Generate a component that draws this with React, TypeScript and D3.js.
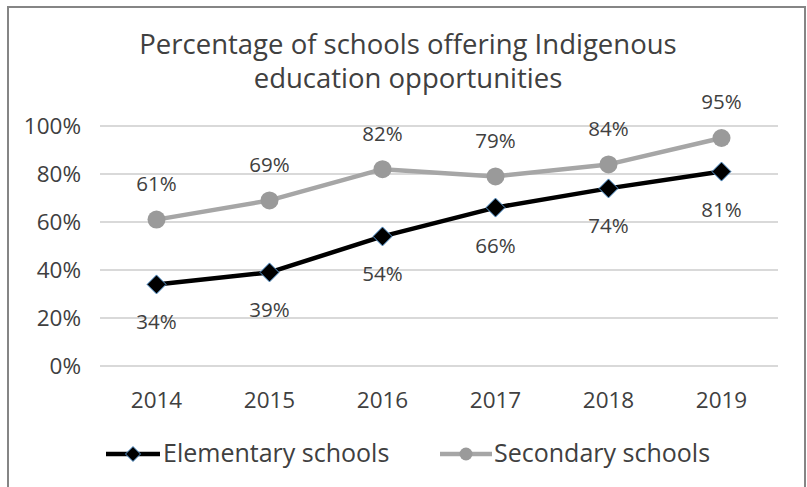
import React from "react";
import * as d3 from "d3";

const years = ["2014", "2015", "2016", "2017", "2018", "2019"];
const elementary = [34, 39, 54, 66, 74, 81];
const secondary = [61, 69, 82, 79, 84, 95];
const yTicks = [0, 20, 40, 60, 80, 100];
const titleLines = ["Percentage of schools offering Indigenous", "education opportunities"];
const seriesNames = ["Elementary schools", "Secondary schools"];

const W = 807;
const H = 487;
const FONT = "'Open Sans', sans-serif";
const TXT = "#404040";

export default function App() {
  const x = d3.scaleBand<string>().domain(years).range([100, 778]);
  const y = d3.scaleLinear().domain([0, 100]).range([366, 126]);
  const cx = (d: string) => (x(d) as number) + x.bandwidth() / 2;
  const line = d3
    .line<number>()
    .x((_, i) => cx(years[i]))
    .y((v) => y(v));
  const diamond = (px: number, py: number, r: number) =>
    `M${px},${py - r}L${px + r},${py}L${px},${py + r}L${px - r},${py}Z`;

  return (
    <svg
      width={W}
      height={H}
      style={{ position: "absolute", left: 0, top: 0, background: "#fff" }}
      fontFamily={FONT}
    >
      <rect x={8} y={7} width={797} height={500} fill="#fff" stroke="#858585" strokeWidth={2} />
      {titleLines.map((t, i) => (
        <text key={t} x={408} y={54 + i * 34} textAnchor="middle" fontSize={27.5} fill={TXT}>
          {t}
        </text>
      ))}
      {yTicks.map((t) => (
        <g key={t}>
          <line x1={100} x2={778} y1={y(t)} y2={y(t)} stroke="#d9d9d9" strokeWidth={2} />
          <text x={81} y={y(t) + 8} textAnchor="end" fontSize={22.5} fill={TXT}>
            {t}%
          </text>
        </g>
      ))}
      {years.map((yr) => (
        <text key={yr} x={cx(yr)} y={408} textAnchor="middle" fontSize={22.5} fill={TXT}>
          {yr}
        </text>
      ))}
      <path d={line(secondary) || ""} fill="none" stroke="#a6a6a6" strokeWidth={4.5} strokeLinejoin="round" />
      <path d={line(elementary) || ""} fill="none" stroke="#000" strokeWidth={4.5} strokeLinejoin="round" />
      {secondary.map((v, i) => (
        <g key={"s" + i}>
          <circle cx={cx(years[i])} cy={y(v)} r={9} fill="#9a9a9a" />
          <text x={cx(years[i])} y={y(v) - 28.6} textAnchor="middle" fontSize={20.5} fill={TXT}>
            {v}%
          </text>
        </g>
      ))}
      {elementary.map((v, i) => (
        <g key={"e" + i}>
          <path d={diamond(cx(years[i]), y(v), 9.5)} fill="#000" stroke="#5b9bd5" strokeWidth={1} />
          <text x={cx(years[i])} y={y(v) + 45} textAnchor="middle" fontSize={20.5} fill={TXT}>
            {v}%
          </text>
        </g>
      ))}
      <g>
        <line x1={106} x2={160} y1={454} y2={454} stroke="#000" strokeWidth={4.5} />
        <path d={diamond(133, 454, 7.5)} fill="#000" stroke="#5b9bd5" strokeWidth={1} />
        <text x={163} y={462} fontSize={25} fill={TXT}>{seriesNames[0]}</text>
        <line x1={440} x2={492} y1={454} y2={454} stroke="#a6a6a6" strokeWidth={4.5} />
        <circle cx={466} cy={454} r={6.5} fill="#9a9a9a" />
        <text x={494} y={462} fontSize={25} fill={TXT}>{seriesNames[1]}</text>
      </g>
    </svg>
  );
}
